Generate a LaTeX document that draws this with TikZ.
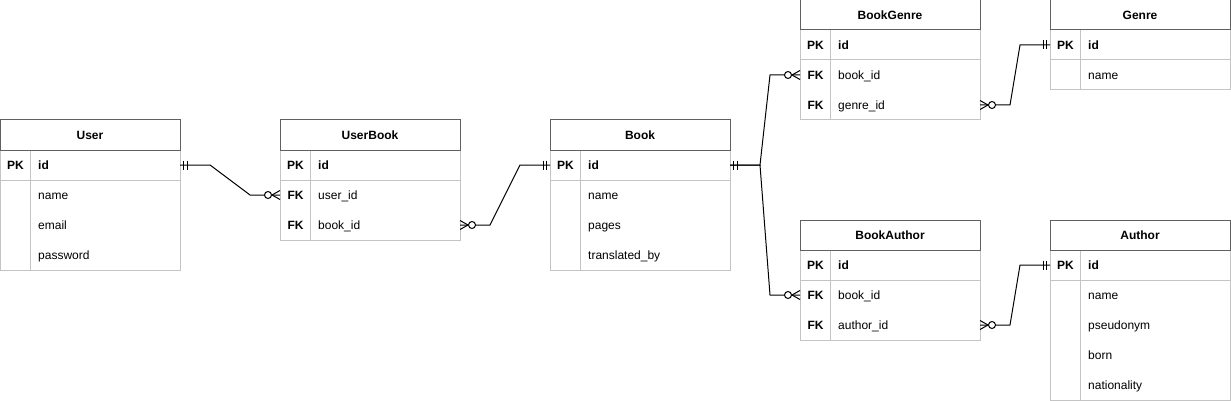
\documentclass[tikz,border=0pt]{standalone}
\usepackage{fontspec}
\setmainfont{Liberation Sans}
\usetikzlibrary{calc}
\definecolor{hdrcol}{RGB}{96,96,96}
\definecolor{rowcol}{RGB}{196,196,196}
\tikzset{
  every node/.style={font=\fontsize{12}{14}\selectfont, text=black},
  hdr/.style={draw=hdrcol, line width=1pt, fill=white, minimum width=180pt, minimum height=30pt, inner sep=0pt, outer sep=0pt},
  hdrtxt/.style={inner sep=0pt, anchor=base, font=\fontsize{12}{14}\selectfont\bfseries},
  rowbox/.style={minimum width=180pt, minimum height=30pt, inner sep=0pt, outer sep=0pt},
  keytxt/.style={inner sep=0pt, anchor=base},
  fldtxt/.style={inner sep=0pt, anchor=base west},
  divider/.style={draw=rowcol, line width=1pt},
  rel/.style={draw=black, line width=1pt},
}
% name, x, y, title, rows {key/field,...}
\newcommand{\ertable}[5]{%
  \foreach \k/\f [count=\i] in {#5} {
    \node[rowbox, anchor=north west] (#1-r\i) at (#2,{#3+30*\i}) {};
    \node[keytxt] (#1-k\i) at ($(#1-r\i.west)+(15.5,4.3)$) {\k};
    \node[fldtxt] (#1-f\i) at ($(#1-r\i.west)+(38,4.3)$) {\f};
    \xdef\ernrows{\i}
  }
  \draw[divider] (#2,#3+30) rectangle (#2+180,{#3+30+30*\ernrows});
  \draw[divider] (#2,#3+60) -- (#2+180,#3+60);
  \draw[divider] (#2+30,#3+30) -- (#2+30,{#3+30+30*\ernrows});
  \node[hdr, anchor=north west] (#1) at (#2,#3) {};
  \node[hdrtxt] (#1-t) at ($(#1.center)+(0,4.3)$) {#4};
}
\newcommand{\mandone}[2]{%
  \draw[rel] ($(#1)+(#2*3.5,-4.5)$) -- ++(0,9);
  \draw[rel] ($(#1)+(#2*7,-4.5)$) -- ++(0,9);
}
\newcommand{\zeromany}[2]{%
  \draw[rel] ($(#1)+(#2*8,0)$) -- ($(#1)+(0,-4.5)$);
  \draw[rel] ($(#1)+(#2*8,0)$) -- ($(#1)+(0,4.5)$);
  \draw[rel, fill=white] ($(#1)+(#2*12,0)$) circle (3.5pt);
}
\begin{document}
\begin{tikzpicture}[x=1pt, y=-1pt]
\useasboundingbox (0,0) rectangle (1231,401);

\ertable{user}{0}{120}{User}{\textbf{PK}/\textbf{id}, /name, /email, /password}
\ertable{userbook}{280}{120}{UserBook}{\textbf{PK}/\textbf{id}, \textbf{FK}/user\_id, \textbf{FK}/book\_id}
\ertable{book}{550}{120}{Book}{\textbf{PK}/\textbf{id}, /name, /pages, /translated\_by}
\ertable{bookgenre}{800}{0}{BookGenre}{\textbf{PK}/\textbf{id}, \textbf{FK}/book\_id, \textbf{FK}/genre\_id}
\ertable{genre}{1050}{0}{Genre}{\textbf{PK}/\textbf{id}, /name}
\ertable{bookauthor}{800}{220}{BookAuthor}{\textbf{PK}/\textbf{id}, \textbf{FK}/book\_id, \textbf{FK}/author\_id}
\ertable{author}{1050}{220}{Author}{\textbf{PK}/\textbf{id}, /name, /pseudonym, /born, /nationality}

% connectors
\draw[rel] (user-r1.east) -- ++(30,0) -- ($(userbook-r2.west)+(-30,0)$) -- (userbook-r2.west);
\draw[rel] (userbook-r3.east) -- ++(30,0) -- ($(book-r1.west)+(-30,0)$) -- (book-r1.west);
\draw[rel] (book-r1.east) -- ++(30,0) -- ($(bookgenre-r2.west)+(-30,0)$) -- (bookgenre-r2.west);
\draw[rel] (book-r1.east) -- ++(30,0) -- ($(bookauthor-r2.west)+(-30,0)$) -- (bookauthor-r2.west);
\draw[rel] (bookgenre-r3.east) -- ++(30,0) -- ($(genre-r1.west)+(-30,0)$) -- (genre-r1.west);
\draw[rel] (bookauthor-r3.east) -- ++(30,0) -- ($(author-r1.west)+(-30,0)$) -- (author-r1.west);

% markers
\mandone{user-r1.east}{1}
\zeromany{userbook-r2.west}{-1}
\zeromany{userbook-r3.east}{1}
\mandone{book-r1.west}{-1}
\mandone{book-r1.east}{1}
\zeromany{bookgenre-r2.west}{-1}
\zeromany{bookauthor-r2.west}{-1}
\zeromany{bookgenre-r3.east}{1}
\mandone{genre-r1.west}{-1}
\zeromany{bookauthor-r3.east}{1}
\mandone{author-r1.west}{-1}
\end{tikzpicture}
\end{document}
